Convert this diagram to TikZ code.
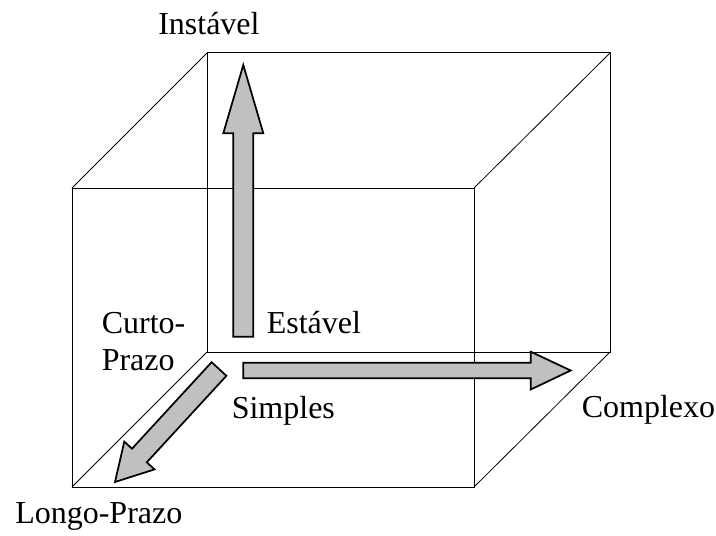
\documentclass[tikz,border=0pt]{standalone}
\usepackage{fontspec}
\setmainfont{Liberation Serif}
\begin{document}
\begin{tikzpicture}[x=0.75pt,y=-0.75pt,
  edge/.style={line width=0.75pt,black},
  diag/.style={line width=0.6pt,black},
  fatarrow/.style={fill={rgb,255:red,192;green,192;blue,192},draw=black,line width=1.3pt,line join=miter},
  lbl/.style={font=\fontsize{24pt}{28pt}\selectfont,inner sep=0pt,anchor=base west}]
\useasboundingbox (0,0) rectangle (716,535);
% cube corners
\coordinate (f1) at (72,188);
\coordinate (f2) at (474,188);
\coordinate (f3) at (474,487);
\coordinate (f4) at (72,487);
\coordinate (b1) at (207,53);
\coordinate (b2) at (610,53);
\coordinate (b3) at (610,352);
\coordinate (b4) at (207,352);
% back face
\draw[edge] (b1) -- (b2) -- (b3) -- (b4) -- cycle;
% front face
\draw[edge] (f1) -- (f2) -- (f3) -- (f4) -- cycle;
% connecting edges
\draw[diag] (f1) -- (b1);
\draw[diag] (f2) -- (b2);
\draw[diag] (f3) -- (b3);
\draw[diag] (f4) -- (b4);
% up arrow
\draw[fatarrow] (233.3,336.7) -- (253.3,336.7) -- (253.3,133.3) -- (263.3,133.3)
  -- (243.3,65) -- (223.3,133.3) -- (233.3,133.3) -- cycle;
% right arrow
\draw[fatarrow] (243.3,362.7) -- (530.7,362.7) -- (530.7,351.7) -- (570.7,370.5)
  -- (530.7,389.5) -- (530.7,378.3) -- (243.3,378.3) -- cycle;
% diagonal arrow
\draw[fatarrow] (226.4,375.8) -- (146.8,462.3) -- (154.5,469.4) -- (115,482)
  -- (124.3,441.6) -- (132,448.7) -- (211.6,362.2) -- cycle;
% labels
\node[lbl] (instavel) at (158,35) {Instável};
\node[lbl] (estavel) at (266.5,333) {Estável};
\node[lbl] (curto) at (101.5,333) {Curto-};
\node[lbl] (prazo) at (101.5,370) {Prazo};
\node[lbl] (simples) at (231.5,418) {Simples};
\node[lbl] (complexo) at (581.5,417) {Complexo};
\node[lbl] (longo) at (15,523) {Longo-Prazo};
\end{tikzpicture}
\end{document}
